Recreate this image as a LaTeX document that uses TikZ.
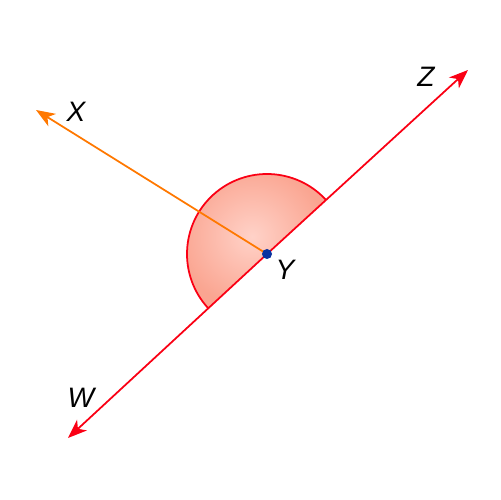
\documentclass[tikz,border=0pt]{standalone}
\usepackage{fontspec}
\setmainfont{Liberation Sans}
\usetikzlibrary{arrows.meta}
\definecolor{lred}{RGB}{250,0,20}
\definecolor{lorange}{RGB}{255,120,0}
\definecolor{ptblue}{RGB}{10,50,160}
\definecolor{shin}{RGB}{255,210,200}
\definecolor{shout}{RGB}{250,165,145}
\tikzset{
  redline/.style={draw=lred, line width=1pt},
  orangeline/.style={draw=lorange, line width=1pt},
  tip/.style={-{Stealth[length=3.8mm,width=2.9mm,inset=1.1mm]}},
  lbl/.style={font=\fontsize{16}{19}\selectfont\itshape, inner sep=0pt},
}
\begin{document}
\begin{tikzpicture}[x=0.02cm,y=0.02cm]
\useasboundingbox (0,0) rectangle (500,500);
\coordinate (Y) at (267,246);
\coordinate (Z) at (468,430);
\coordinate (W) at (68,62);
\coordinate (X) at (36,390);
\fill[inner color=shin, outer color=shout] (Y) ++(42.47:80) arc[start angle=42.47, end angle=222.47, radius=80] -- cycle;
\draw[redline] (Y) ++(42.47:80) arc[start angle=42.47, end angle=222.47, radius=80];
\draw[orangeline, tip, color=lorange] (Y) -- (X);
\draw[redline, tip, color=lred] (Y) -- (Z);
\draw[redline, tip, color=lred] (Y) -- (W);
\fill[ptblue] (Y) circle[radius=0.1cm];
\node[lbl] (lx) at (76,388) {X};
\node[lbl] (lz) at (426,423) {Z};
\node[lbl] (lw) at (81,102) {W};
\node[lbl] (ly) at (285,230) {Y};
\end{tikzpicture}
\end{document}
